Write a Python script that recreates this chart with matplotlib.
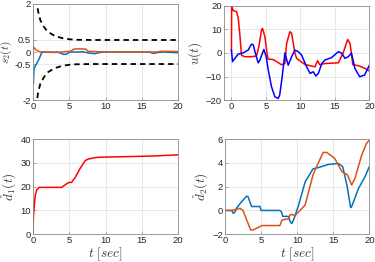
import matplotlib
matplotlib.use("Agg")
import matplotlib.pyplot as plt

plt.rcParams['mathtext.fontset'] = 'cm'
plt.rcParams['font.family'] = ['Liberation Sans', 'DejaVu Sans']

BLUE = '#0072BD'
ORANGE = '#D95319'

# --- s2(t) ---
bound_t = [0.42, 0.55, 0.7, 1.0, 1.5, 2.0, 3.0, 4.0, 5.0, 6.0, 8.0, 20.0]
bound_up = [2.3, 2.0, 1.7, 1.33, 1.05, 0.85, 0.67, 0.58, 0.53, 0.51, 0.5, 0.5]
bound_lo = [-v for v in bound_up]
s2_blue_t = [0, 0.05, 0.14, 0.5, 0.87, 1.2, 1.5, 3.5, 4.2, 4.6, 5.1, 6.4, 6.9, 7.6, 8.5, 9.2, 9.7, 16.0, 16.6, 17.2, 18.0, 20]
s2_blue = [-1.3, -1.32, -0.69, -0.48, -0.27, -0.03, 0.0, -0.01, -0.1, -0.09, 0.0, 0.0, 0.01, -0.04, -0.07, -0.02, 0.0, 0.0, -0.06, -0.02, 0.0, -0.03]
s2_or_t = [0, 0.05, 0.3, 0.6, 1.0, 1.5, 3.0, 4.0, 4.5, 5.2, 5.6, 6.5, 7.3, 7.6, 8.5, 10, 17, 17.7, 20]
s2_or = [-0.3, 0.22, 0.12, 0.05, 0.01, 0.0, -0.02, 0.0, 0.02, 0.03, 0.12, 0.13, 0.12, 0.03, 0.02, 0.0, 0.0, 0.03, 0.02]

# --- u(t) ---
u_red_t = [0, 0.03, 0.24, 0.73, 0.97, 1.21, 1.45, 1.94, 2.9, 3.63, 3.97, 4.36, 4.5, 4.84, 5.23, 5.33, 6.05, 7.26, 7.75, 8.0, 8.47, 8.72, 9.2, 9.44, 10.65, 12.1, 12.5, 12.8, 13.56, 15.5, 16.2, 16.85, 17.2, 17.6, 18.4, 19.4, 20]
u_red = [1, 20, 18, 17.5, 15, 8, -1, -1.6, -1.6, -1.3, 2.6, 9.7, 10.4, 7, -1.6, -2.6, -2.8, -5, -4.5, 4, 9, 8.3, 0, -2.3, -4.9, -5.9, -3.3, -5, -4.5, -4.2, 0, 5.7, 4, -5, -5.4, -6.6, -7.7]
u_blue_t = [0, 0.15, 0.5, 0.97, 1.7, 2.42, 2.9, 3.15, 3.49, 3.87, 4.1, 4.7, 5.04, 5.3, 5.8, 6.3, 6.78, 7.0, 7.36, 7.75, 8.23, 8.72, 9.2, 9.7, 10.17, 10.9, 11.4, 11.86, 12.25, 12.6, 13.1, 13.56, 14.5, 15.5, 15.98, 16.46, 16.95, 17.4, 17.9, 18.6, 19.3, 20]
u_blue = [1.2, -3.7, -2.3, -0.5, 0, 1.2, 3.7, 3.5, -0.3, -4.2, -3.2, 1.5, -1.6, -6.6, -14.3, -18.6, -19.3, -17.8, -10, 0, -5.2, -1.6, 1.2, 0.5, -0.9, -5.9, -8.7, -8, -9.8, -8.7, -4.5, -3, -2, 0.5, -0.1, -2.3, -1.6, -0.1, -6.6, -10.1, -9.4, -5.2]

# --- d1 hat ---
d1_t = [0, 0.05, 0.18, 0.32, 0.5, 0.87, 1.4, 3.94, 4.4, 4.86, 5.3, 5.8, 6.5, 7.2, 7.6, 8.5, 9.2, 13.8, 16.6, 20]
d1 = [0, 6.7, 12.3, 16.5, 18.6, 19.7, 19.7, 19.7, 20.7, 21.7, 21.8, 23.8, 27.7, 31.0, 31.6, 32.2, 32.4, 32.7, 32.9, 33.4]

# --- d2 hat ---
d2_blue_t = [0, 0.92, 1.15, 1.35, 1.6, 2.3, 3.0, 3.2, 3.6, 3.7, 4.85, 5.0, 7.6, 7.85, 8.0, 8.8, 9.0, 9.24, 9.5, 10.2, 11.1, 12.2, 12.9, 14.3, 15.7, 16.3, 16.9, 17.4, 17.55, 18.5, 19.4, 20]
d2_blue = [0, 0, -0.24, -0.15, 0.2, 0.74, 1.2, 1.15, 0.46, 0.33, 0.33, 0, 0, -0.15, -0.5, -0.5, -0.9, -1.1, -0.8, 0.46, 2.4, 3.5, 3.6, 3.87, 3.95, 3.7, 2.1, 0.24, 0.33, 1.86, 2.84, 3.7]
d2_or_t = [0, 0.92, 1.6, 2.08, 2.5, 3.0, 3.56, 3.9, 4.85, 5.08, 7.6, 7.9, 8.8, 9.0, 9.24, 9.5, 9.7, 10.16, 11.1, 12.2, 12.9, 13.6, 14.1, 15.2, 16.2, 16.95, 17.4, 17.55, 18.0, 18.94, 19.6, 20]
d2_or = [0, 0, 0.1, 0.18, 0, -0.8, -1.64, -1.64, -1.36, -1.27, -1.27, -0.8, -0.7, -0.38, -0.33, -0.4, -0.43, -0.15, 0.46, 3.0, 3.96, 4.88, 4.88, 4.38, 3.26, 3.0, 2.36, 2.14, 2.7, 4.66, 5.64, 5.9]

fig = plt.figure(figsize=(3.75, 2.62), dpi=100)

LABEL_KW = dict(fontsize=9.5, color='#3a3a3a')

def style(ax):
    ax.grid(True, color='#e4e4e4', linewidth=0.6)
    ax.set_axisbelow(True)
    for s in ax.spines.values():
        s.set_color('#8c8c8c')
        s.set_linewidth(0.6)
    ax.tick_params(direction='in', length=2, width=0.5, colors='#8c8c8c',
                   labelcolor='#262626', labelsize=6.8, pad=1.5)
    ax.set_xticks([0, 5, 10, 15, 20])

lw = 1.1
ax1 = fig.add_axes([0.088, 0.618, 0.387, 0.367])
style(ax1)
ax1.plot(bound_t, bound_up, '--', color='k', lw=1.3, dashes=(3, 2.2))
ax1.plot(bound_t, bound_lo, '--', color='k', lw=1.3, dashes=(3, 2.2))
ax1.plot(s2_blue_t, s2_blue, color=BLUE, lw=lw)
ax1.plot(s2_or_t, s2_or, color=ORANGE, lw=lw)
ax1.set_xlim(0, 20)
ax1.set_ylim(-2, 2)
ax1.set_yticks([-2, -0.5, 0, 0.5, 2])
ax1.set_yticklabels(['-2', '-0.5', '0', '0.5', '2'])
ax1.set_ylabel(r'$s_2(t)$', fontsize=8, color='#3a3a3a')
ax1.yaxis.set_label_coords(-0.13, 0.5)

ax2 = fig.add_axes([0.597, 0.618, 0.388, 0.36])
style(ax2)
ax2.plot(u_red_t, u_red, color='r', lw=lw)
ax2.plot(u_blue_t, u_blue, color='b', lw=lw)
ax2.set_xlim(-1.1, 20)
ax2.set_ylim(-20, 20)
ax2.set_yticks([-20, -10, 0, 10, 20])
ax2.set_ylabel(r'$u(t)$', labelpad=1, **LABEL_KW)

ax3 = fig.add_axes([0.088, 0.106, 0.387, 0.363])
style(ax3)
ax3.plot(d1_t, d1, color='r', lw=lw)
ax3.set_xlim(0, 20)
ax3.set_ylim(0, 40)
ax3.set_yticks([0, 10, 20, 30, 40])
ax3.set_ylabel(r'$\hat{d}_1(t)$', labelpad=1, **LABEL_KW)
ax3.set_xlabel(r'$t\ [sec]$', labelpad=0, **LABEL_KW)

ax4 = fig.add_axes([0.6, 0.106, 0.385, 0.363])
style(ax4)
ax4.plot(d2_blue_t, d2_blue, color=BLUE, lw=lw)
ax4.plot(d2_or_t, d2_or, color=ORANGE, lw=lw)
ax4.set_xlim(0, 20)
ax4.set_ylim(-2, 6)
ax4.set_yticks([-2, 0, 2, 4, 6])
ax4.set_ylabel(r'$\hat{d}_2(t)$', labelpad=1, **LABEL_KW)
ax4.set_xlabel(r'$t\ [sec]$', labelpad=0, **LABEL_KW)

fig.savefig('out.png', dpi=100)
